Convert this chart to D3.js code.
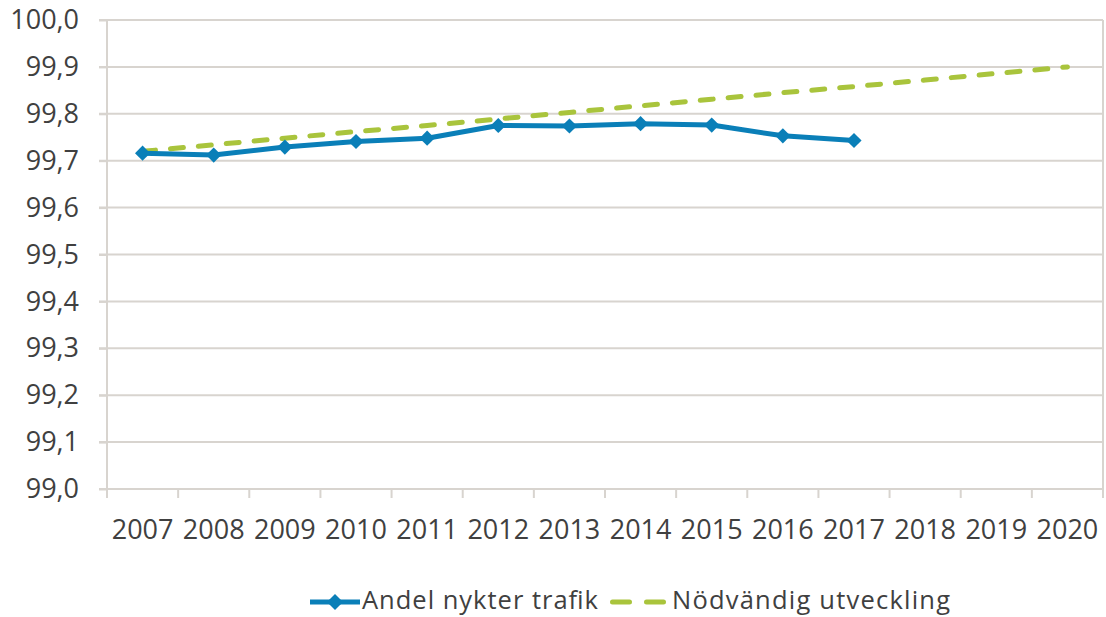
<!DOCTYPE html>
<html>
<head>
<meta charset="utf-8">
<script src="https://cdn.jsdelivr.net/npm/d3@7"></script>
<style>
  body { margin: 0; background: #fff; }
  text { font-family: "Open Sans", sans-serif; fill: #404040; }
</style>
</head>
<body>
<div id="chart"></div>
<script>
const years = ["2007","2008","2009","2010","2011","2012","2013","2014","2015","2016","2017","2018","2019","2020"];
const nykter = [99.716, 99.712, 99.729, 99.741, 99.748, 99.775, 99.774, 99.779, 99.776, 99.753, 99.743];
const nodvandig = [99.72, 99.734, 99.748, 99.762, 99.775, 99.789, 99.803, 99.817, 99.831, 99.845, 99.858, 99.872, 99.886, 99.90];
const yTicks = [99.0, 99.1, 99.2, 99.3, 99.4, 99.5, 99.6, 99.7, 99.8, 99.9, 100.0];
const seriesNames = ["Andel nykter trafik", "Nödvändig utveckling"];

const W = 1106, H = 617;
const margin = { top: 20, right: 3, bottom: 128, left: 107 };
const blue = "#0a7fb8", green = "#a9c43c", grid = "#d8d4cf";

const svg = d3.select("#chart").append("svg")
  .attr("width", W).attr("height", H);

const x = d3.scaleBand().domain(years)
  .range([margin.left, W - margin.right]).padding(0);
const y = d3.scaleLinear().domain([99, 100])
  .range([H - margin.bottom, margin.top]);

const fmt = d => d.toFixed(1).replace(".", ",");

// gridlines
svg.append("g").selectAll("line").data(yTicks).join("line")
  .attr("x1", margin.left - 8).attr("x2", W - margin.right)
  .attr("y1", d => y(d)).attr("y2", d => y(d))
  .attr("stroke", grid).attr("stroke-width", 2);

// y axis
const yAxis = svg.append("g")
  .attr("transform", `translate(${margin.left},0)`)
  .call(d3.axisLeft(y).tickValues(yTicks).tickFormat(fmt).tickSize(8).tickPadding(20));
yAxis.select(".domain").remove();
yAxis.selectAll("line").attr("stroke", grid).attr("stroke-width", 2);
yAxis.selectAll("text").attr("font-size", 27).attr("fill", "#404040");

// x axis with ticks on band boundaries
const bounds = years.map(d => x(d)).concat([x(years[years.length - 1]) + x.bandwidth()]);
svg.append("g").selectAll("line").data(bounds).join("line")
  .attr("x1", d => d).attr("x2", d => d)
  .attr("y1", y(99)).attr("y2", y(99) + 9)
  .attr("stroke", grid).attr("stroke-width", 2);
svg.append("line")
  .attr("x1", margin.left).attr("x2", margin.left)
  .attr("y1", y(100)).attr("y2", y(99))
  .attr("stroke", grid).attr("stroke-width", 2);
svg.append("line")
  .attr("x1", W - margin.right).attr("x2", W - margin.right)
  .attr("y1", y(100)).attr("y2", y(99))
  .attr("stroke", grid).attr("stroke-width", 2);
svg.append("g").selectAll("text").data(years).join("text")
  .attr("x", d => x(d) + x.bandwidth() / 2)
  .attr("y", y(99) + 50)
  .attr("text-anchor", "middle")
  .attr("font-size", 27)
  .text(d => d);

const cx = d => x(d) + x.bandwidth() / 2;

// green dashed line
svg.append("path")
  .datum(nodvandig)
  .attr("fill", "none").attr("stroke", green).attr("stroke-width", 5)
  .attr("stroke-dasharray", "13,15").attr("stroke-linecap", "round")
  .attr("d", d3.line().x((d, i) => cx(years[i])).y(d => y(d)));

// blue line
svg.append("path")
  .datum(nykter)
  .attr("fill", "none").attr("stroke", blue).attr("stroke-width", 5)
  .attr("stroke-linejoin", "round")
  .attr("d", d3.line().x((d, i) => cx(years[i])).y(d => y(d)));

const diamond = d3.symbol(d3.symbolSquare, 115);
svg.append("g").selectAll("path").data(nykter).join("path")
  .attr("d", diamond)
  .attr("fill", blue)
  .attr("transform", (d, i) => `translate(${cx(years[i])},${y(d)}) rotate(45)`);

// legend
const ly = 602;
const leg = svg.append("g");
leg.append("line").attr("x1", 310).attr("x2", 360).attr("y1", ly).attr("y2", ly)
  .attr("stroke", blue).attr("stroke-width", 5);
leg.append("path").attr("d", d3.symbol(d3.symbolSquare, 130)).attr("fill", blue)
  .attr("transform", `translate(335,${ly}) rotate(45)`);
leg.append("text").attr("x", 362).attr("y", 609).attr("font-size", 25.5)
  .attr("textLength", 236).text(seriesNames[0]);
leg.append("line").attr("x1", 612.5).attr("x2", 663.5).attr("y1", ly).attr("y2", ly)
  .attr("stroke", green).attr("stroke-width", 5)
  .attr("stroke-dasharray", "17,17").attr("stroke-linecap", "round");
leg.append("text").attr("x", 672).attr("y", 609).attr("font-size", 25.5)
  .attr("textLength", 278).text(seriesNames[1]);
</script>
</body>
</html>
